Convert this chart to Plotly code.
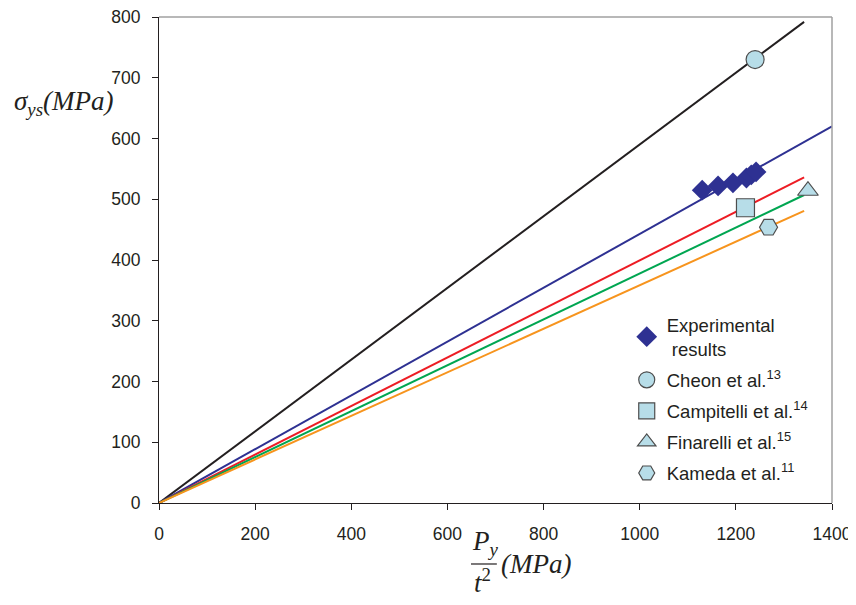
import plotly.graph_objects as go

# Data
exp_x = [1130, 1163, 1194, 1222, 1232, 1242]
exp_y = [515, 522, 527, 535, 540, 545]

cheon_x, cheon_y = [1240], [730]
camp_x, camp_y = [1220], [486]
fin_x, fin_y = [1350], [514]
kam_x, kam_y = [1268], [454]

# fitted lines: start (0,0), end point
line_names = ["Cheon", "Experimental", "Campitelli", "Finarelli", "Kameda"]
line_x_end = [1342, 1400, 1342, 1342, 1342]
line_y_end = [792, 620, 536, 507, 481]
line_colors = ["#231f20", "#2e3192", "#ed1c24", "#00a651", "#f7941d"]

fill = "#b7dde8"
edge = "#4d4d4d"

fig = go.Figure()
for name, xe, ye, c in zip(line_names, line_x_end, line_y_end, line_colors):
    fig.add_trace(go.Scatter(x=[0, xe], y=[0, ye], mode="lines",
                             line=dict(color=c, width=2), showlegend=False,
                             hoverinfo="skip"))

fig.add_trace(go.Scatter(x=exp_x, y=exp_y, mode="markers", legendgroup="g1",
                         name="Experimental<br> results",
                         marker=dict(symbol="diamond", size=16, color="#2e3192",
                                     line=dict(width=0))))
fig.add_trace(go.Scatter(x=cheon_x, y=cheon_y, mode="markers", legendgroup="g2",
                         name="Cheon et al.<sup>13</sup>",
                         marker=dict(symbol="circle", size=18, color=fill,
                                     line=dict(width=1.2, color=edge))))
fig.add_trace(go.Scatter(x=camp_x, y=camp_y, mode="markers", legendgroup="g3",
                         name="Campitelli et al.<sup>14</sup>",
                         marker=dict(symbol="square", size=18, color=fill,
                                     line=dict(width=1.2, color=edge))))
fig.add_trace(go.Scatter(x=fin_x, y=fin_y, mode="markers", legendgroup="g4",
                         name="Finarelli et al.<sup>15</sup>",
                         marker=dict(symbol="triangle-up", size=18, color=fill,
                                     line=dict(width=1.2, color=edge))))
fig.add_trace(go.Scatter(x=kam_x, y=kam_y, mode="markers", legendgroup="g5",
                         name="Kameda et al.<sup>11</sup>",
                         marker=dict(symbol="hexagon2", size=18, color=fill,
                                     line=dict(width=1.2, color=edge))))

axis_font = dict(family="Liberation Sans, Arial, sans-serif", size=17.5, color="#231f20")

# the page body has an 8px margin; margins compensate so the plot area sits
# where it is in the reference (x 159..832, y 17..503 on screen)
fig.update_layout(
    width=856, height=605,
    margin=dict(l=151, r=32, t=9, b=110, autoexpand=False),
    paper_bgcolor="white", plot_bgcolor="white",
    font=axis_font,
    legend=dict(x=0.695, y=0.405, xanchor="left", yanchor="top",
                bgcolor="rgba(0,0,0,0)", font=dict(size=18.5),
                tracegroupgap=4, itemsizing="trace", traceorder="grouped"),
    xaxis=dict(range=[0, 1400], tickvals=[0, 200, 400, 600, 800, 1000, 1200, 1400],
               showgrid=False, zeroline=False, showline=True, linecolor="#231f20",
               linewidth=1, ticks="outside", ticklen=6, tickcolor="#231f20",
               tickfont=axis_font, automargin=False, ticklabeloverflow="allow",
               ticklabelstandoff=9),
    yaxis=dict(range=[0, 800], tickvals=[0, 100, 200, 300, 400, 500, 600, 700, 800],
               showgrid=False, zeroline=False, showline=True, linecolor="#231f20",
               linewidth=1, ticks="outside", ticklen=6, tickcolor="#231f20",
               tickfont=axis_font, automargin=False, ticklabeloverflow="allow",
               ticklabelstandoff=8),
)

# top and right border
fig.add_shape(type="line", xref="paper", yref="paper", x0=1, x1=1, y0=0, y1=1,
              line=dict(color="#a0a0a0", width=1.5))
fig.add_shape(type="line", xref="paper", yref="paper", x0=0, x1=1, y0=1, y1=1,
              line=dict(color="#a0a0a0", width=1.5))

tfont = dict(family="Liberation Serif, Times New Roman, serif", size=27, color="#231f20")

# y title
fig.add_annotation(xref="paper", yref="paper", x=-0.219, y=0.823, xanchor="left",
                   yanchor="middle", showarrow=False, font=tfont,
                   text="<i>σ</i><sub><i>ys</i></sub><i>(MPa)</i>")

# x title as fraction
fig.add_annotation(xref="paper", yref="paper", x=0.485, y=-0.082, xanchor="center",
                   yanchor="middle", showarrow=False, font=tfont,
                   text="<i>P</i><sub><i>y</i></sub>")
fig.add_annotation(xref="paper", yref="paper", x=0.480, y=-0.16, xanchor="center",
                   yanchor="middle", showarrow=False, font=tfont,
                   text="<i>t</i><sup>2</sup>")
fig.add_annotation(xref="paper", yref="paper", x=0.505, y=-0.125, xanchor="left",
                   yanchor="middle", showarrow=False, font=tfont,
                   text="<i>(MPa)</i>")
fig.add_shape(type="line", xref="paper", yref="paper", x0=0.4636, x1=0.502,
              y0=-0.1255, y1=-0.1255, line=dict(color="#231f20", width=1.2))

fig.write_html("out.html")
